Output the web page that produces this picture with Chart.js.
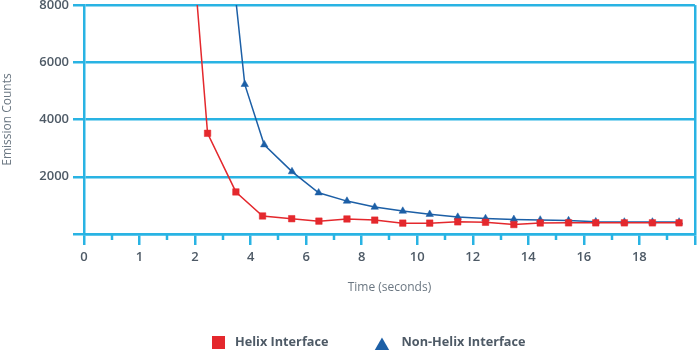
<!DOCTYPE html>
<html>
<head>
<meta charset="utf-8">
<title>Emission Counts</title>
<script src="https://cdn.jsdelivr.net/npm/chart.js@4.4.1/dist/chart.umd.min.js"></script>
<style>
  html, body { margin: 0; padding: 0; background: #fff; }
  #wrap { width: 700px; height: 350px; }
</style>
</head>
<body>
<div id="wrap"><canvas id="emission-chart" width="700" height="350"></canvas></div>
<script>
// Major tick labels on the time axis, one every second slot
const tickLabels = ['0', '1', '2', '4', '6', '8', '10', '12', '14', '16', '18'];

// Helix interface: position on the time axis (slots) and emission counts
const helixSlots = [3.45, 4.45, 5.47, 6.43, 7.48, 8.46, 9.47, 10.47, 11.48, 12.45, 13.46, 14.46, 15.48, 16.43, 17.45, 18.43, 19.46, 20.47, 21.43];
const helixCounts = [15600, 3520, 1470, 630, 535, 450, 525, 485, 380, 380, 425, 410, 330, 385, 390, 390, 390, 390, 390];

// Non-helix interface
const nonHelixSlots = [4.8, 5.79, 6.49, 7.49, 8.45, 9.47, 10.47, 11.48, 12.45, 13.46, 14.46, 15.48, 16.43, 17.45, 18.43, 19.46, 20.47, 21.43];
const nonHelixCounts = [14300, 5230, 3120, 2180, 1440, 1150, 940, 800, 690, 590, 540, 510, 490, 470, 430, 420, 420, 420];

const axisColor = '#29b3e3';
const labelColor = '#4e5a66';
const titleColor = '#6b7782';
const helixColor = '#e4282d';
const nonHelixColor = '#1c5fa6';
const tickFont = { family: 'Open Sans', size: 13, weight: '600' };

const toPoints = (xs, ys) => xs.map((x, i) => ({ x, y: ys[i] }));

// short ticks between the labelled ones
const minorTicks = {
  id: 'minorTicks',
  afterDraw(chart) {
    const { ctx, chartArea } = chart;
    const x = chart.scales.x;
    ctx.save();
    ctx.strokeStyle = axisColor;
    ctx.lineWidth = 2.5;
    for (let v = 1; v < x.max; v += 2) {
      const px = Math.round(x.getPixelForValue(v));
      ctx.beginPath();
      ctx.moveTo(px, chartArea.bottom);
      ctx.lineTo(px, chartArea.bottom + 6);
      ctx.stroke();
    }
    ctx.restore();
  }
};

// legend row under the axis title
const bottomLegend = {
  id: 'bottomLegend',
  afterDraw(chart) {
    const { ctx } = chart;
    const rowY = 342.5;
    let cursor = 212;
    ctx.save();
    ctx.font = '700 12.7px "Open Sans", sans-serif';
    ctx.textBaseline = 'middle';
    chart.data.datasets.forEach(ds => {
      ctx.fillStyle = ds.backgroundColor;
      ctx.beginPath();
      let w;
      if (ds.pointStyle === 'triangle') {
        w = 19;
        const cx = cursor + w / 2, top = rowY - 5;
        ctx.moveTo(cx, top);
        ctx.lineTo(cx + w / 2, top + 16.5);
        ctx.lineTo(cx - w / 2, top + 16.5);
        ctx.closePath();
      } else {
        w = 13;
        ctx.rect(cursor, rowY - w / 2, w, w);
      }
      ctx.fill();
      const textX = cursor + w + 10;
      ctx.fillStyle = labelColor;
      ctx.fillText(ds.label, textX, rowY);
      cursor = textX + ctx.measureText(ds.label).width + 44;
    });
    ctx.restore();
  }
};

new Chart(document.getElementById('emission-chart'), {
  type: 'line',
  data: {
    datasets: [
      {
        label: 'Helix Interface',
        data: toPoints(helixSlots, helixCounts),
        borderColor: helixColor,
        backgroundColor: helixColor,
        borderWidth: 1.5,
        pointStyle: 'rect',
        pointRadius: 4.6,
        pointBorderWidth: 0.5,
        tension: 0
      },
      {
        label: 'Non-Helix Interface',
        data: toPoints(nonHelixSlots, nonHelixCounts),
        borderColor: nonHelixColor,
        backgroundColor: nonHelixColor,
        borderWidth: 1.5,
        pointStyle: 'triangle',
        pointRadius: 4.3,
        pointBorderWidth: 0.5,
        tension: 0
      }
    ]
  },
  options: {
    responsive: false,
    animation: false,
    devicePixelRatio: 1,
    layout: { padding: { top: 0, right: 2, bottom: 55, left: 0 } },
    plugins: {
      legend: { display: false },
      tooltip: { enabled: false }
    },
    scales: {
      x: {
        type: 'linear',
        min: 0,
        max: 22,
        afterFit: s => { s.height = 61; },
        border: { color: axisColor, width: 2.5 },
        grid: {
          color: c => (c.tick && c.tick.value === 22 ? axisColor : 'rgba(0,0,0,0)'),
          tickColor: c => (c.tick && c.tick.value % 2 === 0 ? axisColor : 'rgba(0,0,0,0)'),
          lineWidth: 2.5,
          tickWidth: 2.5,
          tickLength: 11
        },
        ticks: {
          stepSize: 1,
          autoSkip: false,
          maxRotation: 0,
          padding: 4,
          color: labelColor,
          font: tickFont,
          callback: v => (v % 2 === 0 ? (tickLabels[v / 2] ?? '') : '')
        },
        title: {
          display: true,
          text: 'Time (seconds)',
          color: titleColor,
          font: { family: 'Open Sans', size: 12 },
          padding: 0
        }
      },
      y: {
        min: 0,
        max: 8000,
        afterFit: s => { s.width = 84; s.paddingTop = 5; s.paddingBottom = 0; },
        border: { color: axisColor, width: 2.5 },
        grid: { color: axisColor, lineWidth: 2.5, tickLength: 11 },
        ticks: {
          stepSize: 2000,
          padding: 4,
          color: labelColor,
          font: tickFont,
          callback: v => (v === 0 ? '' : String(v))
        },
        title: {
          display: true,
          text: 'Emission Counts',
          color: titleColor,
          font: { family: 'Open Sans', size: 12 },
          padding: 0
        }
      }
    }
  },
  plugins: [minorTicks, bottomLegend]
});
</script>
</body>
</html>
